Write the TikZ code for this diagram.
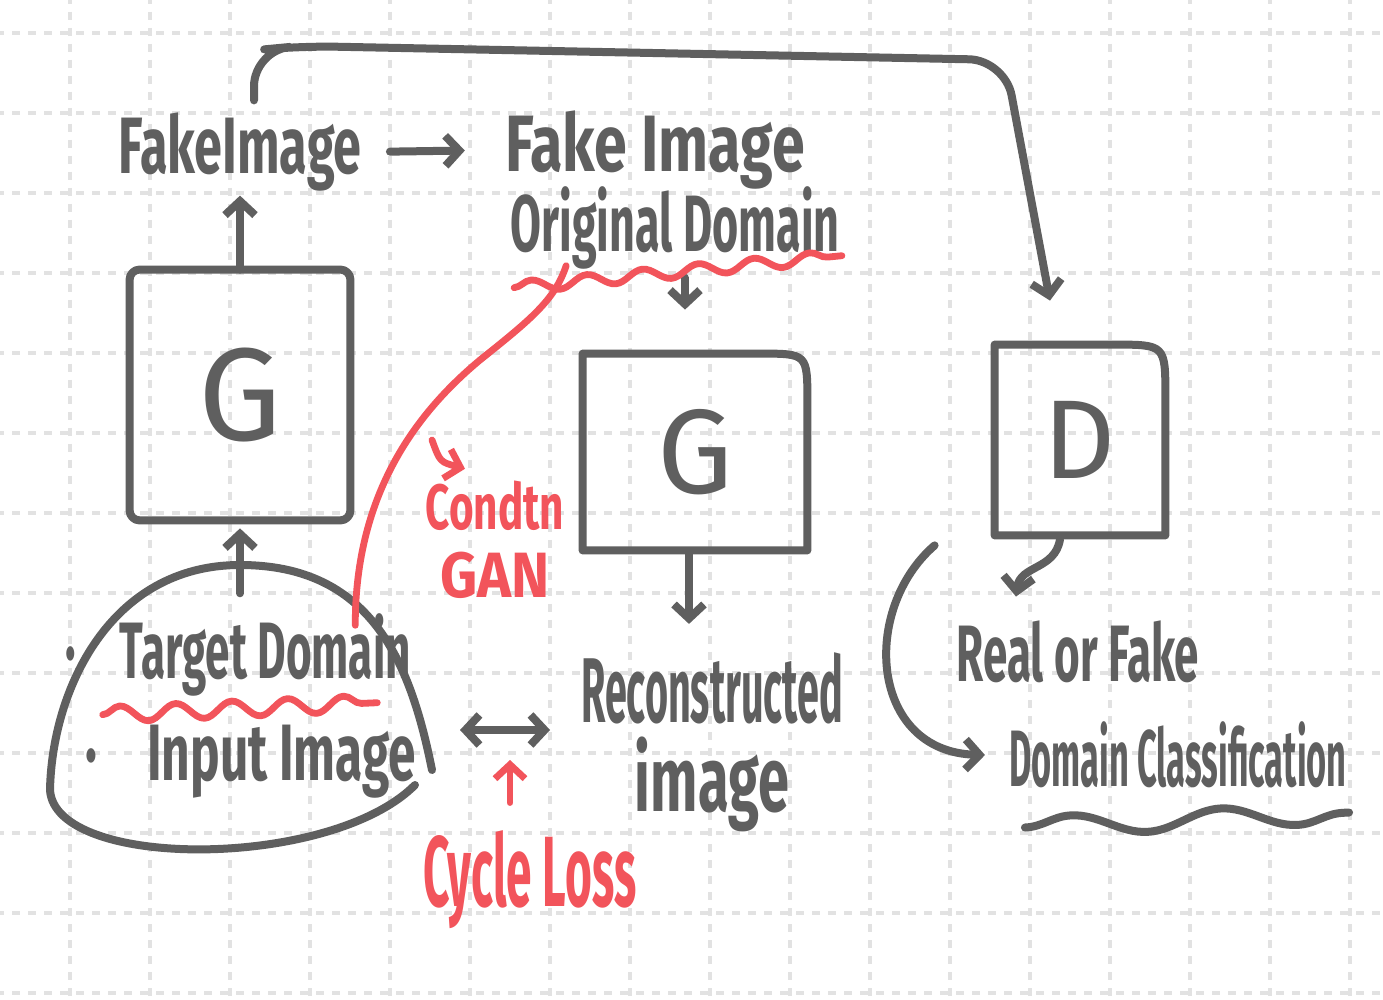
\documentclass[tikz,border=0pt]{standalone}
\usepackage{fontspec}
\setmainfont{Fira Sans}
\usepackage{graphicx}
\usepackage{tikz}
\usetikzlibrary{arrows.meta,positioning,decorations.pathmorphing}
\definecolor{ink}{HTML}{5F5F5F}
\definecolor{marker}{HTML}{F2545B}
\definecolor{gridgray}{HTML}{E2E2E2}
\newcommand{\squeeze}[2]{\scalebox{#1}[1]{#2}}
\newcommand{\handsize}[1]{\fontsize{#1}{#1}\selectfont\bfseries}
\newcommand{\lettersize}[1]{\fontsize{#1}{#1}\selectfont}
\tikzset{
  pen/.style={draw=ink, line width=4pt, line cap=round, line join=round},
  redpen/.style={draw=marker, line width=3.4pt, line cap=round, line join=round},
  tip/.style={-{Straight Barb[length=7pt,width=15pt]}},
  duo/.style={{Straight Barb[length=7pt,width=15pt]}-{Straight Barb[length=7pt,width=15pt]}},
  lbl/.style={text=ink, inner sep=2pt, align=center},
  redlbl/.style={text=marker, inner sep=2pt, align=center},
  block/.style={rectangle, draw=none, inner sep=0pt, text=ink},
  gridrule/.style={draw=gridgray, line width=1.6pt, dash pattern=on 4pt off 4pt, dash phase=2pt},
}

\begin{document}
\begin{tikzpicture}[x=0.5pt, y=-0.5pt]
\useasboundingbox[fill=white] (0,0) rectangle (1383,1000);
% dotted paper grid
\foreach \gx in {-10,70,...,1390} \draw[gridrule] (\gx,0) -- (\gx,1000);
\foreach \gy in {33,113,...,1000} \draw[gridrule] (0,\gy) -- (1383,\gy);

% blocks
\node[block, minimum width=110pt, minimum height=125pt, font=\lettersize{66}] (g1) at (240,395) {G};
\node[block, minimum width=112pt, minimum height=98pt, font=\lettersize{60}] (g2) at (695,452) {G};
\node[block, minimum width=85pt, minimum height=95pt, font=\lettersize{56}] (d) at (1080,440) {D};
\draw[pen, rounded corners=5pt] (g1.south west) rectangle (g1.north east);
\draw[pen] (g2.south west) -- (g2.north west) -- ([xshift=-24pt]g2.north east)
  .. controls (g2.north east) .. ([yshift=-24pt]g2.north east) -- (g2.south east) -- cycle;
\draw[pen] (d.south west) -- (d.north west) -- ([xshift=-26pt]d.north east)
  .. controls (d.north east) .. ([yshift=-26pt]d.north east) -- (d.south east) -- cycle;

% labels
\node[lbl, font=\handsize{40}] (fakeA) at (240,152) {\squeeze{0.63}{FakeImage}};
\node[lbl, font=\handsize{40}] (fakeB) at (655,150) {\squeeze{0.74}{Fake Image}};
\node[lbl, font=\handsize{40}] (orig) at (675,228) {\squeeze{0.56}{Original Domain}};
\node[lbl, font=\handsize{40}] (target) at (238,655) {\squeeze{0.55}{·\quad Target Domain}};
\node[lbl, font=\handsize{40}] (inputimg) at (251,762) {\squeeze{0.62}{·\quad Input Image}};
\node[redlbl, font=\handsize{32}] (cond) at (495,540) {\squeeze{0.66}{Condtn}\\[2pt]\squeeze{0.9}{GAN}};
\node[lbl, font=\handsize{46}] (recon) at (712,688) {\squeeze{0.43}{Reconstructed}};
\node[lbl, font=\handsize{46}, below=2pt of recon] (reconB) {\squeeze{0.61}{image}};
\node[redlbl, font=\handsize{50}] (cycle) at (530,880) {\squeeze{0.46}{Cycle Loss}};
\node[lbl, font=\handsize{40}] (realfake) at (1078,652) {\squeeze{0.55}{Real or Fake}};
\node[lbl, font=\handsize{40}] (domain) at (1178,755) {\squeeze{0.43}{Domain Classification}};

% blob round the inputs
\draw[pen] (432,770) .. controls (410,660) and (370,565) .. (240,565)
  .. controls (110,565) and (52,690) .. (50,790)
  .. controls (55,870) and (330,870) .. (415,785);

% connectors
\draw[pen, tip] (g1.north) -- (g1.north |- fakeA.south);
\draw[pen, tip, shorten <=12pt, shorten >=18pt] (fakeA.east) -- (fakeB.west);
\draw[pen, tip, shorten <=2pt, shorten >=22pt] ([xshift=5pt]orig.south) -- ([xshift=5pt]orig.south |- g2.north);
\draw[pen, tip, shorten <=2pt, shorten >=12pt] ([xshift=-3pt]g2.south) -- ([xshift=-3pt]g2.south |- recon.north);
\draw[pen, tip, shorten <=8pt, shorten >=4pt] (target.north -| g1.south) -- (g1.south);
\draw[pen, tip, rounded corners=18pt] ([xshift=7pt,yshift=4pt]fakeA.north) -- ++(0,-50)
  -- (300,46) -- (1005,60) -- ([xshift=-15pt,yshift=22pt]d.north);
\coordinate (loopL) at (460,730);
\coordinate (loopR) at (550,730);
\draw[pen, duo] (loopL) -- (loopR);
\coordinate (cycmid) at (510,760);
\draw[redpen, tip, shorten <=12pt] (cycle.north -| cycmid) -- (cycmid);
\draw[pen, tip] ([xshift=-10pt,yshift=-2pt]d.south) .. controls (1055,570) and (1020,565) .. ([xshift=-31pt,yshift=10pt]realfake.north);
\draw[pen, tip] ([xshift=-30pt,yshift=-5pt]d.south west) .. controls (860,610) and (870,752) .. ([xshift=-10pt]domain.west);

% conditioning link
\draw[redpen] ([xshift=-30pt,yshift=-8pt]target.north east) .. controls (355,490) and (420,410) .. (480,360)
  .. controls (530,320) and (555,300) .. ([xshift=30pt,yshift=4pt]orig.south west);
\coordinate (lnk) at (432,440);
\draw[redpen, tip] (lnk) .. controls (440,462) .. ([xshift=-15pt,yshift=4pt]cond.north);

% wavy underlines
\draw[redpen, decorate, decoration={snake, amplitude=3pt, segment length=28pt}]
  ([shift={(8,14)}]orig.south west) -- ([shift={(-2,-18)}]orig.south east);
\draw[redpen, decorate, decoration={snake, amplitude=4pt, segment length=28pt}]
  ([shift={(42,14)}]target.south west) -- ([shift={(-38,2)}]target.south east);
\draw[pen, decorate, decoration={snake, amplitude=5pt, segment length=75pt}]
  ([shift={(20,35)}]domain.south west) -- ([shift={(-2,20)}]domain.south east);
\end{tikzpicture}
\end{document}
